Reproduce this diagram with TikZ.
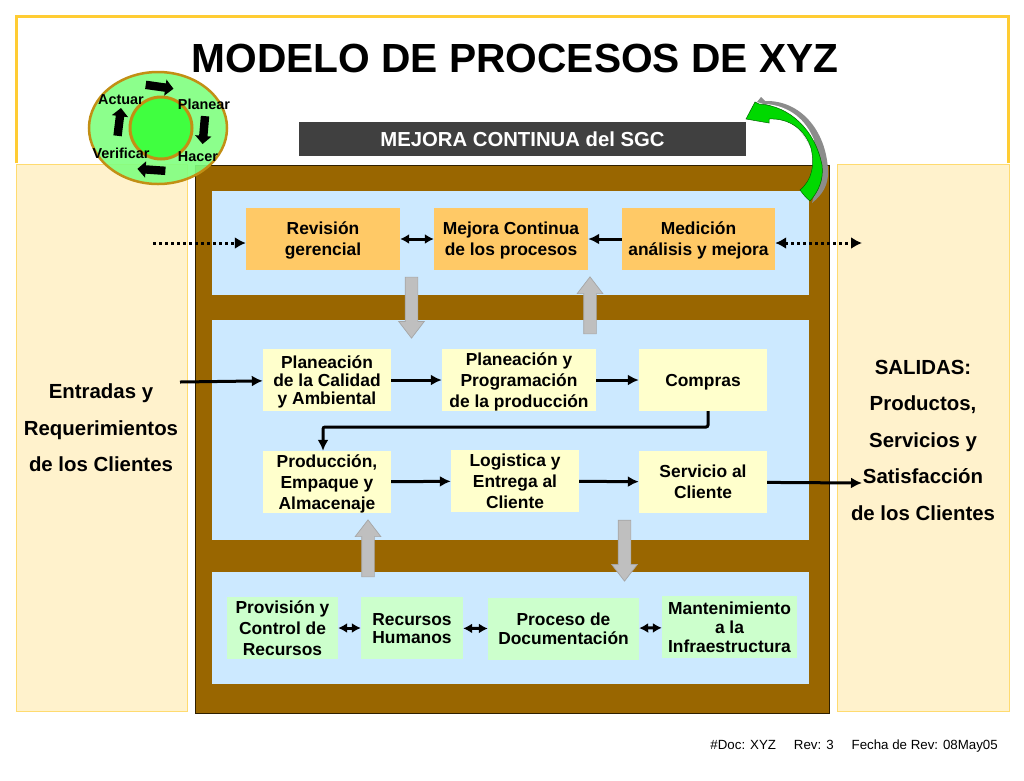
\documentclass[tikz,border=0pt]{standalone}
\usepackage{fontspec}
\setmainfont{Liberation Sans}
\usetikzlibrary{arrows.meta,shapes.arrows}
\definecolor{marco}{HTML}{FFCC33}
\definecolor{crema}{HTML}{FFF2CC}
\definecolor{cafe}{HTML}{996600}
\definecolor{celeste}{HTML}{CCE9FF}
\definecolor{naranja}{HTML}{FFC966}
\definecolor{amarillo}{HTML}{FFFFCC}
\definecolor{verde}{HTML}{CCFFCC}
\tikzset{
	caja/.style={inner sep=0pt, align=center, text depth=0pt, font=\fontsize{17.4}{21}\bfseries\selectfont},
	flecha/.style={line width=3pt, -{Latex[length=11pt,width=11pt]}},
	doble/.style={line width=3pt, {Latex[length=9pt,width=10pt]}-{Latex[length=9pt,width=10pt]}},
	punteada/.style={line width=3pt, dash pattern=on 3pt off 3pt, -{Latex[length=11pt,width=12pt]}},
	gris/.style={single arrow, draw=black!35, fill=black!25, line width=.7pt, inner xsep=0pt, inner ysep=6pt, minimum width=25pt, single arrow head extend=6.5pt, single arrow tip angle=75},
	negra/.style={single arrow, fill=black, inner xsep=0pt, inner ysep=4pt, minimum width=16pt, minimum height=28pt, single arrow head extend=4pt},
	pdca/.style={inner sep=0pt, font=\fontsize{14.4}{14}\bfseries\selectfont},
	lateral/.style={inner sep=0pt, align=center, font=\fontsize{20.4}{36.5}\bfseries\selectfont}
}
\begin{document}
\begin{tikzpicture}[x=1pt, y=-1pt]
	\useasboundingbox[fill=white] (0,0) rectangle (1024,780);
	\draw[marco, line width=3pt] (16,163) -- (16,16) -- (1008,16) -- (1008,163);
	\node[font=\fontsize{40.7}{40}\bfseries\selectfont, inner sep=0pt] (titulo) at (515,58) {MODELO DE PROCESOS DE XYZ};
	\node[fill=black!75, text=white, minimum width=447pt, minimum height=34pt, inner sep=0pt, font=\fontsize{20.3}{20}\bfseries\selectfont] (mejora) at (522.5,139) {MEJORA CONTINUA del SGC};

	\fill[crema] (16,164) rectangle (187,711);
	\draw[marco!70, line width=1pt] (16,164) rectangle (187,711);
	\fill[crema] (837,164) rectangle (1009,711);
	\draw[marco!70, line width=1pt] (837,164) rectangle (1009,711);
	\draw[black!70!cafe, fill=cafe, line width=1pt] (195,165) rectangle (829,713);
	\fill[celeste] (212,191) rectangle (809,295);
	\fill[celeste] (212,320) rectangle (809,540);
	\fill[celeste] (212,572) rectangle (809,684);

	% flecha curva
	\fill[black!45] (757,102) -- (761,97) -- (765,101) .. controls (800,100) and (826,130) .. (828,170) .. controls (829,185) and (822,195) .. (812,203) -- (818,180) -- (812,150) .. controls (800,125) and (780,108) .. (757,102) -- cycle;
	\fill[white] (766,104) .. controls (790,106) and (806,120) .. (814,140) -- (812,150) .. controls (800,125) and (780,108) .. (766,104) -- cycle;
	\draw[black!60!green, fill=green!85!black, line width=.5pt] (746,119) -- (755,102) -- (759,104) .. controls (790,106) and (815,130) .. (822,165) .. controls (824,180) and (818,192) .. (810,201) .. controls (806,198) and (803,194) .. (800,190) .. controls (812,180) and (815,165) .. (811,148) .. controls (805,130) and (790,118) .. (769,119) -- (769,123) -- cycle;

	% ciclo
	\draw[cafe!60!marco, line width=2.5pt, fill=green!50, fill opacity=.9] (158,128) ellipse (69pt and 56pt);
	\draw[cafe!60!marco, line width=3pt, fill=green!75!white] (161,128) circle (31pt);
	\node[negra, rotate=-8] (flechaA) at (157.5,86.5) {};
	\node[negra, rotate=-95] (flechaB) at (204,128) {};
	\node[negra, rotate=176] (flechaC) at (153.5,170) {};
	\node[negra, rotate=83] (flechaD) at (119,124) {};
	\node[pdca] (actuar) at (121,100) {Actuar};
	\node[pdca] (planear) at (204,104) {Planear};
	\node[pdca] (verificar) at (121,153) {Verificar};
	\node[pdca] (hacer) at (198,157) {Hacer};

	\node[caja, fill=naranja, minimum width=154pt, minimum height=62pt] (revision) at (323,239) {Revisión\\gerencial};
	\node[caja, fill=naranja, minimum width=154pt, minimum height=62pt] (continua) at (511,239) {Mejora Continua\\de los procesos};
	\node[caja, fill=naranja, minimum width=153pt, minimum height=62pt] (medicion) at (698.5,239) {Medición\\análisis y mejora};

	\node[caja, fill=amarillo, minimum width=128pt, minimum height=62pt, font=\fontsize{17.4}{18}\bfseries\selectfont] (calidad) at (327,380) {Planeación\\de la Calidad\\y Ambiental};
	\node[caja, fill=amarillo, minimum width=154pt, minimum height=62pt] (programa) at (519,380) {Planeación y\\Programación\\de la producción};
	\node[caja, fill=amarillo, minimum width=128pt, minimum height=62pt] (compras) at (703,380) {Compras};
	\node[caja, fill=amarillo, minimum width=128pt, minimum height=62pt] (produccion) at (327,482) {Producción,\\Empaque y\\Almacenaje};
	\node[caja, fill=amarillo, minimum width=128pt, minimum height=62pt] (logistica) at (515,481) {Logistica y\\Entrega al\\Cliente};
	\node[caja, fill=amarillo, minimum width=128pt, minimum height=62pt] (servicio) at (703,482) {Servicio al\\Cliente};

	\node[caja, fill=verde, minimum width=111pt, minimum height=62pt] (provision) at (282.5,628) {Provisión y\\Control de\\Recursos};
	\node[caja, fill=verde, minimum width=102pt, minimum height=62pt, font=\fontsize{17.4}{18}\bfseries\selectfont] (humanos) at (412,628) {Recursos\\Humanos};
	\node[caja, fill=verde, minimum width=151pt, minimum height=62pt, font=\fontsize{17.4}{19}\bfseries\selectfont] (documento) at (563.5,629) {Proceso de\\Documentación};
	\node[caja, fill=verde, minimum width=135pt, minimum height=62pt, font=\fontsize{17.4}{19}\bfseries\selectfont] (infra) at (729.5,627) {Mantenimiento\\a la\\Infraestructura};

	\node[lateral] (entradas) at (101,428) {Entradas y\\Requerimientos\\de los Clientes};
	\node[lateral] (salidas) at (923,440) {SALIDAS:\\Productos,\\Servicios y\\Satisfacción\\de los Clientes};

	\node[gris, rotate=-90, minimum height=61pt] (bajaA) at (411.5,303.5) {};
	\node[gris, rotate=90, minimum height=57pt] (subeA) at (590,309.5) {};
	\node[gris, rotate=90, minimum height=57pt] (subeB) at (368,552.5) {};
	\node[gris, rotate=-90, minimum height=61pt] (bajaB) at (624.5,546.5) {};

	\coordinate (inicioA) at (153,243);
	\coordinate (finA) at (862,243);
	\coordinate (inicioB) at (180,382);
	\coordinate (finB) at (862,483);
	\coordinate (codoA) at (708,427);
	\coordinate (codoB) at (323,427);
	\draw[punteada] (inicioA) -- (revision.west |- inicioA);
	\draw[punteada, {Latex[length=11pt,width=12pt]}-{Latex[length=11pt,width=12pt]}] (medicion.east |- finA) -- (finA);
	\draw[doble] (revision) -- (continua);
	\draw[flecha] (medicion) -- (continua);
	\draw[flecha] (inicioB) -- (calidad);
	\draw[flecha] (calidad) -- (programa);
	\draw[flecha] (programa) -- (compras);
	\draw[flecha, rounded corners=2pt] (compras.south -| codoA) -- (codoA) -- (codoB) -- (produccion.north -| codoB);
	\draw[flecha] (produccion) -- (logistica);
	\draw[flecha] (logistica) -- (servicio);
	\draw[flecha] (servicio) -- (finB);
	\draw[doble] (provision) -- (humanos);
	\draw[doble] (humanos) -- (documento);
	\draw[doble] (documento) -- (infra);

	\node[anchor=east, inner sep=0pt, font=\fontsize{13.3}{13}\selectfont] (pie) at (998,746) {\#Doc: XYZ\hspace{18pt}Rev: 3\hspace{18pt}Fecha de Rev: 08May05};
\end{tikzpicture}
\end{document}
